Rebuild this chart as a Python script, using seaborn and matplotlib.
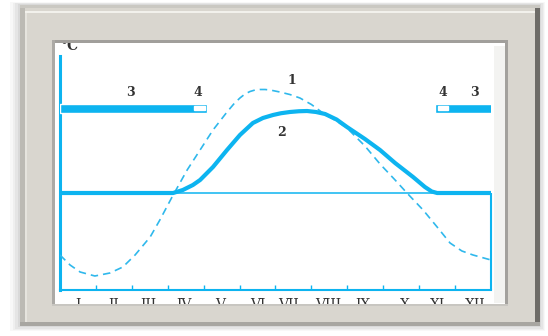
import numpy as np
import pandas as pd
import matplotlib
matplotlib.use("Agg")
import matplotlib.pyplot as plt
from matplotlib.patches import Rectangle
import seaborn as sns

# ---------------- data ----------------
# curve 1: air temperature (dashed), month (0..12) vs °C
air_month = [0.00, 0.28, 0.56, 0.97, 1.39, 1.75, 2.09, 2.51, 2.78, 3.12, 3.54, 3.90,
             4.26, 4.65, 4.85, 5.01, 5.15, 5.29, 5.43, 5.57, 5.71, 5.85, 6.12, 6.40,
             6.68, 7.00, 7.32, 7.65, 7.99, 8.49, 8.91, 9.33, 9.66, 10.11, 10.50,
             10.86, 11.19, 11.50, 12.00]
air_temp = [-12.4, -14.4, -15.8, -16.6, -16.0, -14.8, -12.4, -8.8, -5.4, -0.8, 4.6, 8.6,
            12.6, 16.2, 17.9, 19.0, 19.8, 20.3, 20.6, 20.7, 20.7, 20.6, 20.2, 19.7,
            19.0, 17.7, 16.0, 14.6, 13.0, 9.4, 5.8, 2.6, 0.0, -3.4, -6.8,
            -10.0, -11.6, -12.4, -13.4]
# curve 2: water temperature (thick)
water_month = [0.00, 3.15, 3.42, 3.70, 3.90, 4.26, 4.65, 5.01, 5.37, 5.65, 5.93, 6.15,
               6.40, 6.65, 6.88, 7.13, 7.38, 7.70, 7.99, 8.49, 8.91, 9.33, 9.83, 10.16,
               10.35, 10.50, 12.00]
water_temp = [0.0, 0.0, 0.6, 1.6, 2.6, 5.2, 8.6, 11.6, 14.0, 15.0, 15.6, 15.95,
              16.2, 16.35, 16.4, 16.2, 15.8, 14.7, 13.2, 10.8, 8.6, 6.0, 3.2, 1.2,
              0.3, 0.0, 0.0]
# 3: ice cover periods, 4: ice formation / break-up
ice_start = [0.00, 10.44]
ice_end = [4.09, 12.03]
partial_start = [3.73, 10.52]
partial_end = [4.04, 10.80]

month_labels = ["I", "II", "III", "IV", "V", "VI", "VII", "VIII", "IX", "X", "XI", "XII"]
month_label_pos = [0.50, 1.50, 2.45, 3.45, 4.46, 5.52, 6.35, 7.47, 8.44, 9.61, 10.50, 11.56]
month_ticks = [1, 2, 3, 4, 5, 6, 7, 8, 9, 10, 11]

curve_labels = ["1", "2", "3", "4", "4", "3"]
curve_label_x = [6.46, 6.18, 1.95, 3.84, 10.66, 11.53]
curve_label_y = [22.4, 12.2, 20.2, 20.2, 20.2, 20.2]

# ---------------- style ----------------
sns.set_style("white")
plt.rcParams["font.family"] = ["DejaVu Serif", "DejaVu Sans"]

CYAN = "#0db4f0"
DASH = "#2fb8ec"
TXT = "#333333"

W, H = 548, 336
fig = plt.figure(figsize=(W / 100, H / 100), dpi=100)
fig.patch.set_facecolor("white")

# background (shadow behind frame)
bg = fig.add_axes([0, 0, 1, 1], zorder=0)
bg.set_xlim(0, W)
bg.set_ylim(H, 0)
bg.axis("off")

def rect(a, x0, y0, x1, y1, c, **kw):
    a.add_patch(Rectangle((x0, y0), x1 - x0, y1 - y0, facecolor=c,
                          edgecolor="none", **kw))

for i, al in enumerate([0.04, 0.05, 0.06, 0.08]):
    d = 10 - 2.5 * i
    rect(bg, 20 - d, 5 - d / 3, 540 + d / 2, 326 + d / 2, (0.3, 0.3, 0.3, al))
rect(bg, 20, 5, 540, 326, "white")

# main axes: x 60..491 px, y 56..290 px
ax = fig.add_axes([60 / W, 1 - 290 / H, 431 / W, 234 / H], zorder=1)
ax.set_facecolor("none")
ax.set_xlim(0, 12)
ax.set_ylim(-19.4, 27.4)

air = pd.DataFrame({"month": air_month, "temp": air_temp})
water = pd.DataFrame({"month": water_month, "temp": water_temp})

ax.axhline(0, color=CYAN, lw=1.1, zorder=2)
sns.lineplot(data=air, x="month", y="temp", ax=ax, color=DASH, lw=1.2,
             linestyle=(0, (4.5, 3)), sort=False, zorder=3)
sns.lineplot(data=water, x="month", y="temp", ax=ax, color=CYAN, lw=3.0,
             sort=False, zorder=4, solid_capstyle="butt", solid_joinstyle="round")

# ice bars
for s, e in zip(ice_start, ice_end):
    ax.barh(16.9, e - s, left=s, height=1.8, color=CYAN, zorder=5)
for s, e in zip(partial_start, partial_end):
    ax.barh(17.1, e - s, left=s, height=0.8, color="white", zorder=6)

for t, x, y in zip(curve_labels, curve_label_x, curve_label_y):
    ax.text(x, y, t, ha="center", va="center", fontsize=9, fontweight="bold",
            color=TXT, zorder=7)

ax.text(0.02, 29.4, "°C", ha="left", va="center", fontsize=10, fontweight="bold",
        color=TXT, clip_on=False)

# spines
for side in ["top", "right"]:
    ax.spines[side].set_visible(False)
ax.spines["left"].set_color(CYAN)
ax.spines["left"].set_linewidth(2.2)
ax.spines["bottom"].set_color(CYAN)
ax.spines["bottom"].set_linewidth(1.5)
ax.vlines(12, -19.4, 0, color=CYAN, lw=1.5, clip_on=False, zorder=3)

ax.set_xticks(month_ticks)
ax.set_xticks(month_label_pos, minor=True)
ax.set_xticklabels([])
ax.set_xticklabels(month_labels, minor=True)
ax.tick_params(axis="x", which="major", direction="in", length=3.6, width=1.0,
               color=CYAN, bottom=True)
ax.tick_params(axis="x", which="minor", length=0, pad=5.5, labelsize=10,
               labelcolor=TXT)
ax.set_yticks([])
ax.set_xlabel("")
ax.set_ylabel("")

# ---------------- frame overlay ----------------
ov = fig.add_axes([0, 0, 1, 1], zorder=10)
ov.set_xlim(0, W)
ov.set_ylim(H, 0)
ov.axis("off")
ov.patch.set_alpha(0)

FRAME = "#d9d6cf"
rect(ov, 20, 5, 540, 42, FRAME)
rect(ov, 20, 304, 540, 326, FRAME)
rect(ov, 20, 42, 54, 304, FRAME)
rect(ov, 506, 42, 540, 304, FRAME)
# outer edges
rect(ov, 20, 5, 25, 326, "#bcbab4")
rect(ov, 535, 5, 540, 326, "#6e6c68")
rect(ov, 20, 5, 540, 8, "#cac8c2")
rect(ov, 25, 11, 535, 13, "#f2f1ec")
rect(ov, 25, 13, 27, 322, "#e6e4de")
rect(ov, 20, 322, 540, 326, "#a8a6a1")
# inner border
rect(ov, 52, 40, 508, 43, "#a19f9b")
rect(ov, 52, 40, 55, 306, "#acaaa6")
rect(ov, 505, 40, 508, 306, "#a3a19d")
rect(ov, 52, 304, 508, 306, "#c8c6c1")
# inner bevel on right
rect(ov, 494, 46, 505, 303, "#f3f3f1")

fig.savefig("out.png", dpi=100, facecolor="white")
